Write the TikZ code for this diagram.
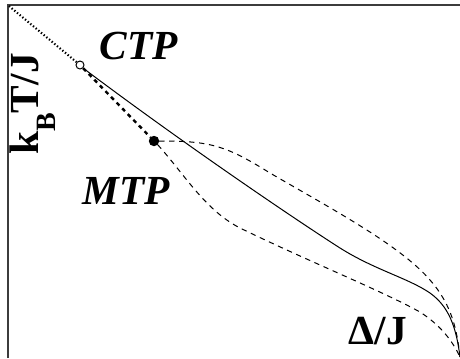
\documentclass[tikz,border=0pt]{standalone}
\usepackage{fontspec}
\setmainfont{Liberation Serif}

\tikzset{every picture/.style={line width=0.75pt}}
\tikzset{
  thindash/.style={dash pattern=on 4pt off 3.5pt, line width=0.75pt},
  thickdash/.style={dash pattern=on 3pt off 3pt, line width=1.8pt},
  tpdot/.style={circle, draw, inner sep=0pt, minimum size=6pt, line width=0.75pt},
  biglabel/.style={font=\fontsize{31}{31}\selectfont\bfseries},
}

\begin{document}
\begin{tikzpicture}[x=0.75pt,y=0.75pt,yscale=-1,xscale=1]
	\useasboundingbox (0,0) rectangle (460,358);

	%Frame
	\draw [color={rgb, 255:red, 60; green, 60; blue, 60 }, line width=1.1pt] (8,358) -- (8,5) -- (460,5) ;

	%Shape: Circle (tricritical points)
	\node [tpdot, fill=white] (ctp) at (80,65) {};
	\node [tpdot, fill=black, minimum size=7pt] (mtp) at (154,141) {};
	\coordinate (top) at (9,6);
	\coordinate (bend) at (460,357);

	%Dotted line
	\draw [dash pattern=on 1pt off 1.6pt, line width=1.6pt] (top) -- (ctp) ;
	%Thick dashed line
	\draw [thickdash] (ctp) -- (mtp) ;
	%Solid curve
	\draw (ctp.south east) .. controls (180,141) and (290,216) .. (340,248) .. controls (375,270) and (408,278) .. (430,293) .. controls (448,306) and (456,325) .. (bend) ;
	%Upper dashed curve
	\draw [thindash] (mtp.east) .. controls (210,141) and (225,145) .. (270,173) .. controls (330,208) and (400,245) .. (430,280) .. controls (452,305) and (457,330) .. (bend) ;
	%Lower dashed curve
	\draw [thindash] (mtp.south east) .. controls (185,175) and (205,210) .. (240,228) .. controls (310,262) and (380,290) .. (420,312) .. controls (440,325) and (452,340) .. (bend) ;

	% Text Node
	\node [biglabel, font=\fontsize{31}{31}\selectfont\bfseries\itshape] (ctplabel) at (139,46) {CTP};
	% Text Node
	\node [biglabel, font=\fontsize{31}{31}\selectfont\bfseries\itshape] (mtplabel) at (126,191) {MTP};
	% Text Node
	\node [biglabel, rotate=90] (ylabel) at (33,104) {k\raisebox{-0.42em}{\fontsize{21}{21}\selectfont B}T/J};
	% Text Node
	\node [biglabel] (xlabel) at (378,331) {Δ/J};

\end{tikzpicture}
\end{document}
